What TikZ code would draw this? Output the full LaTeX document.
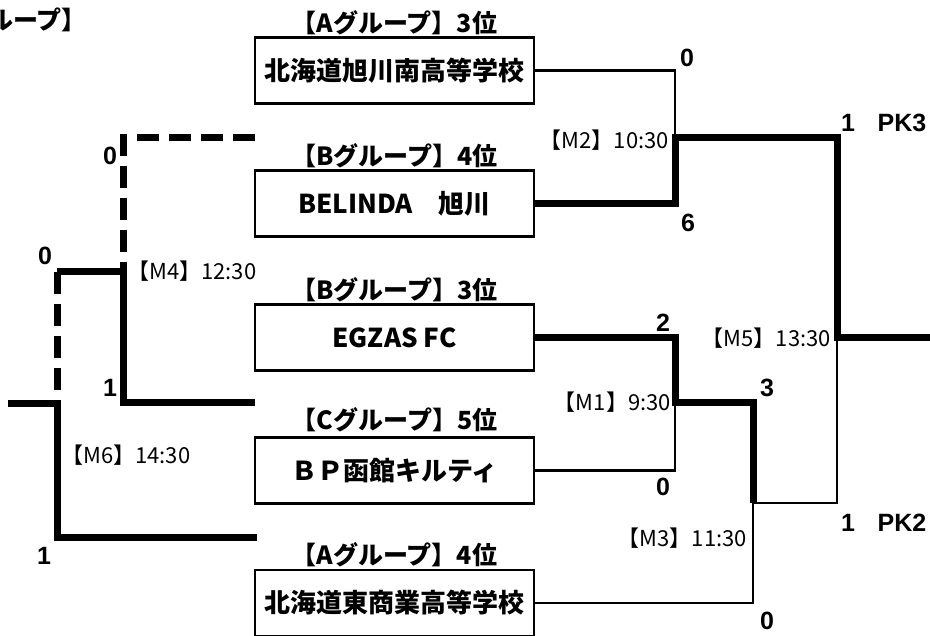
\documentclass[tikz,border=0pt]{standalone}
\usepackage{fontspec}
\newfontfamily\jp{Noto Sans CJK JP}
\newfontfamily\arl{Liberation Sans}
\begin{document}
\begin{tikzpicture}[x=1pt,y=-1pt,
  thinln/.style={line width=2.5pt},
  thickln/.style={line width=7pt},
  dashln/.style={line width=7pt, dash pattern=on 22pt off 10pt},
  teambox/.style={draw, line width=2.5pt, minimum width=279pt, minimum height=66pt, inner sep=0pt,
    font=\jp\bfseries\fontsize{26}{26}\selectfont},
  grp/.style={inner sep=0pt, font=\jp\bfseries\fontsize{25}{25}\selectfont},
  mlabel/.style={inner sep=0pt, font=\jp\fontsize{22}{22}\selectfont},
  score/.style={inner sep=0pt, font=\arl\bfseries\fontsize{25}{25}\selectfont}]
\useasboundingbox (0,0) rectangle (930,636);

% team boxes
\node[teambox] (t1) at (394.5,70.5) {北海道旭川南高等学校};
\node[teambox] (t2) at (394.5,203.5) {BELINDA　旭川};
\node[teambox] (t3) at (394.5,337.5) {EGZAS FC};
\node[teambox] (t4) at (394.5,470.5) {ＢＰ函館キルティ};
\node[teambox] (t5) at (394.5,603) {北海道東商業高等学校};

% group headings
\node[grp] (h1) at (394.5,23) {【Aグループ】3位};
\node[grp] (h2) at (394.5,156) {【Bグループ】4位};
\node[grp] (h3) at (394.5,290) {【Bグループ】3位};
\node[grp] (h4) at (394.5,420) {【Cグループ】5位};
\node[grp] (h5) at (394.5,555) {【Aグループ】4位};
\begin{scope}
\clip (0,0) rectangle (930,636);
\node[grp, anchor=east] (h0) at (87,20) {ループ】};
\end{scope}

% junctions
\coordinate (m2) at (675,138);
\coordinate (m1) at (675,403);
\coordinate (m3) at (753,503);
\coordinate (m5) at (837,338);
\coordinate (out5) at (930,338);
\coordinate (m4) at (123,272);
\coordinate (k4) at (57,272);
\coordinate (m6) at (57,404);
\coordinate (out6) at (8,404);
\coordinate (a2) at (255,138);
\coordinate (a4) at (255,403);
\coordinate (a5) at (257,537);

% right bracket
\draw[thinln] (t1.east) -| (m2);
\draw[thickln] (t2.east) -| (m2) -| (m5) -- (out5);
\draw[thickln] (t3.east) -| (m1) -| (m3);
\draw[thinln] (t4.east) -| (m1);
\draw[thinln] (t5.east) -| (m3) -| (m5);

% left bracket
\draw[dashln] (a2) -| (m4);
\draw[thickln] (a4) -| (m4) -- (k4);
\draw[dashln] (k4) -- (m6);
\draw[thickln] (a5) -| (m6) -- (out6);

% match labels
\node[mlabel, anchor=east] (lm2) at (669,140) {【M2】10:30};
\node[mlabel, anchor=east] (lm1) at (671,402) {【M1】9:30};
\node[mlabel, anchor=east] (lm3) at (747,538) {【M3】11:30};
\node[mlabel, anchor=east] (lm5) at (831,338) {【M5】13:30};
\node[mlabel, anchor=west] (lm4) at (127,271) {【M4】12:30};
\node[mlabel, anchor=west] (lm6) at (61,455) {【M6】14:30};

% scores
\node[score] (s1) at (687,58) {0};
\node[score] (s2) at (688,223) {6};
\node[score] (s3) at (663,323) {2};
\node[score] (s4) at (663,487) {0};
\node[score] (s5) at (767,388) {3};
\node[score] (s6) at (767,621) {0};
\node[score] (s7) at (848,123) {1};
\node[score] (s7b) at (902,123) {PK3};
\node[score] (s8) at (848,523) {1};
\node[score] (s8b) at (902,523) {PK2};
\node[score] (s9) at (110,156) {0};
\node[score] (s10) at (45,256) {0};
\node[score] (s11) at (110,388) {1};
\node[score] (s12) at (44,556) {1};
\end{tikzpicture}
\end{document}
